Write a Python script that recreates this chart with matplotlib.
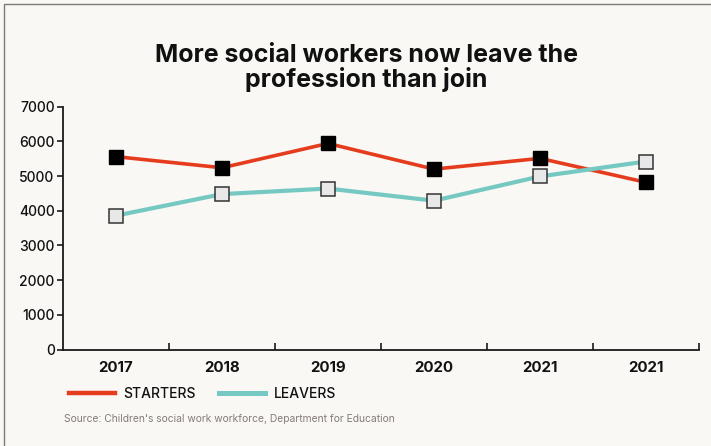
import matplotlib
matplotlib.use("Agg")
import matplotlib.pyplot as plt
from matplotlib.lines import Line2D
from matplotlib.patches import Rectangle

# Data
years = ["2017", "2018", "2019", "2020", "2021", "2021"]
starters = [5560, 5240, 5940, 5200, 5510, 4820]
leavers = [3860, 4480, 4640, 4290, 4990, 5420]
y_ticks = [0, 1000, 2000, 3000, 4000, 5000, 6000, 7000]

BG = "#f9f8f5"
RED = "#e63c1e"
TEAL = "#76c8c2"
INK = "#111111"
FONT = "Inter"

W, H = 711, 446
fig = plt.figure(figsize=(W / 100, H / 100), dpi=100, facecolor=BG)

# outer frame (top and left edges visible)
fig.patches.append(Rectangle((4 / W, -0.1), 2, 1.1 - 4 / H, transform=fig.transFigure,
                             fill=False, edgecolor="#7a7a7a", linewidth=1.0, zorder=0))

ax = fig.add_axes([63 / W, 1 - 349.5 / H, (699 - 63) / W, (349.5 - 106.7) / H])
ax.set_facecolor(BG)

x = list(range(len(years)))
ax.plot(x, starters, color=RED, linewidth=2.6, marker="s", markersize=10,
        markerfacecolor="black", markeredgecolor="black", zorder=3, solid_capstyle="butt")
ax.plot(x, leavers, color=TEAL, linewidth=3.0, marker="s", markersize=9.5,
        markerfacecolor="#e8e8e8", markeredgecolor="#333333", markeredgewidth=1.1, zorder=3)

ax.set_xlim(-0.5, len(years) - 0.5)
ax.set_ylim(0, 7000)

for s in ["top", "right"]:
    ax.spines[s].set_visible(False)
for s in ["left", "bottom"]:
    ax.spines[s].set_linewidth(1.3)
    ax.spines[s].set_color("#1a1a1a")

ax.set_yticks(y_ticks)
ax.set_yticklabels([str(v) for v in y_ticks], fontsize=10, fontweight="medium",
                   family=FONT, color=INK)
ax.tick_params(axis="y", direction="out", length=4, width=1.2, pad=2, color="#1a1a1a")

# category boundaries as inward ticks, labels at category centres
ax.set_xticks([i + 0.5 for i in range(len(years))])
ax.set_xticklabels([])
ax.tick_params(axis="x", which="major", direction="in", length=5, width=1.2, color="#1a1a1a")
ax.set_xticks(x, minor=True)
ax.set_xticklabels(years, minor=True, fontsize=10.8, fontweight="bold", family=FONT, color=INK)
ax.tick_params(axis="x", which="minor", length=0, pad=8)

# title
fig.text(366 / W, 1 - 62 / H, "More social workers now leave the", ha="center", va="baseline",
         fontsize=18, fontweight="bold", family=FONT, color=INK)
fig.text(366 / W, 1 - 86.5 / H, "profession than join", ha="center", va="baseline",
         fontsize=18, fontweight="bold", family=FONT, color=INK)

# legend
handles = [Line2D([0], [0], color=RED, linewidth=3.2),
           Line2D([0], [0], color=TEAL, linewidth=3.6)]
leg = fig.legend(handles, ["STARTERS", "LEAVERS"], loc="center left",
                 bbox_to_anchor=(58 / W, 1 - 393.5 / H), ncol=2, frameon=False,
                 handlelength=3.3, handletextpad=0.6, columnspacing=1.7,
                 prop={"family": FONT, "size": 10, "weight": "medium"}, borderpad=0.3)
for t in leg.get_texts():
    t.set_color(INK)

fig.text(64 / W, 1 - 419.5 / H, "Source: Children's social work workforce, Department for Education",
         ha="left", va="center", fontsize=7.4, family=FONT, color="#857c77")

fig.savefig("out.png", dpi=100, facecolor=BG)
